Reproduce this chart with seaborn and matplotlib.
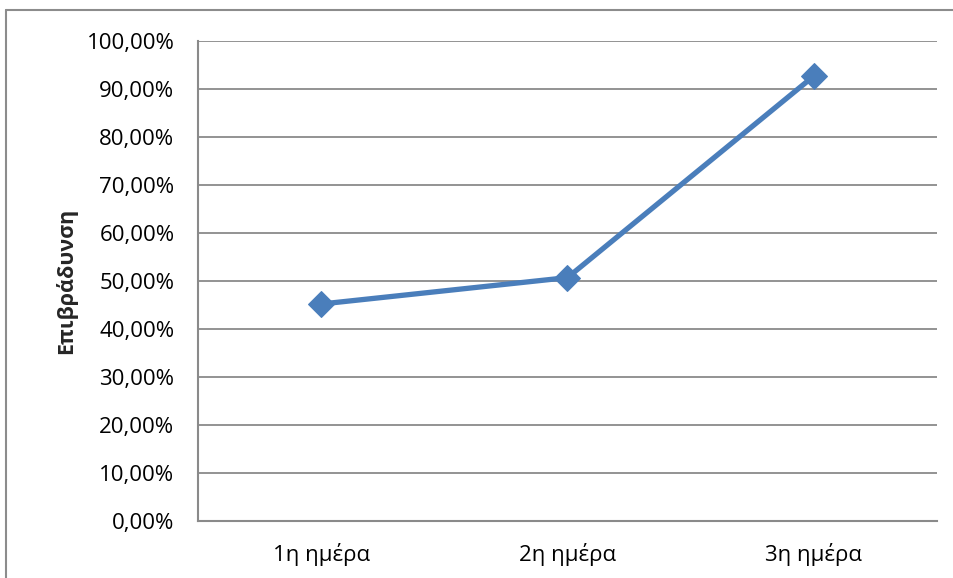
import matplotlib
matplotlib.use("Agg")
import matplotlib.pyplot as plt
from matplotlib.lines import Line2D
from matplotlib.ticker import FuncFormatter, MultipleLocator
import seaborn as sns
import pandas as pd

days = ["1η ημέρα", "2η ημέρα", "3η ημέρα"]
slowdown = [45.1, 50.6, 92.6]
y_label = "Επιβράδυνση"

sns.set_theme(style="white")
plt.rcParams["font.family"] = ["Open Sans", "DejaVu Sans"]

df = pd.DataFrame({"day": days, "value": slowdown})

fig = plt.figure(figsize=(9.54, 5.78), dpi=100)
W, H = 954, 578
ax = fig.add_axes([198 / W, 1 - 520.5 / H, (937 - 198) / W, (520.5 - 40.5) / H])

# outer chart frame (left and top edges)
frame_kw = dict(transform=fig.transFigure, color="#8c8c8c", linewidth=1.5)
fig.add_artist(Line2D([6 / W, 6 / W], [0, 1 - 10 / H], **frame_kw))
fig.add_artist(Line2D([6 / W, 1], [1 - 10 / H, 1 - 10 / H], **frame_kw))

ax.yaxis.grid(True, color="#8a8a8a", linewidth=1.3)
ax.set_axisbelow(True)

sns.lineplot(data=df, x="day", y="value", ax=ax, color="#4a7ebb",
             linewidth=3.8, marker="D", markersize=13,
             markeredgecolor="#4a7ebb", sort=False)

ax.set_xlim(-0.5, 2.5)
ax.set_ylim(0, 100)
ax.yaxis.set_major_locator(MultipleLocator(10))
ax.yaxis.set_major_formatter(FuncFormatter(lambda v, _: f"{v:.2f}".replace(".", ",") + "%"))

for s in ["top", "right"]:
    ax.spines[s].set_visible(False)
for s in ["left", "bottom"]:
    ax.spines[s].set_color("#8a8a8a")
    ax.spines[s].set_linewidth(1.5)

ax.tick_params(axis="both", length=0, labelsize=16, colors="black")
ax.tick_params(axis="y", pad=17)
ax.tick_params(axis="x", pad=16)
ax.set_xlabel("")
ax.set_ylabel(y_label, fontsize=15.5, fontweight="bold", labelpad=7)

fig.savefig("out.png", dpi=100)
